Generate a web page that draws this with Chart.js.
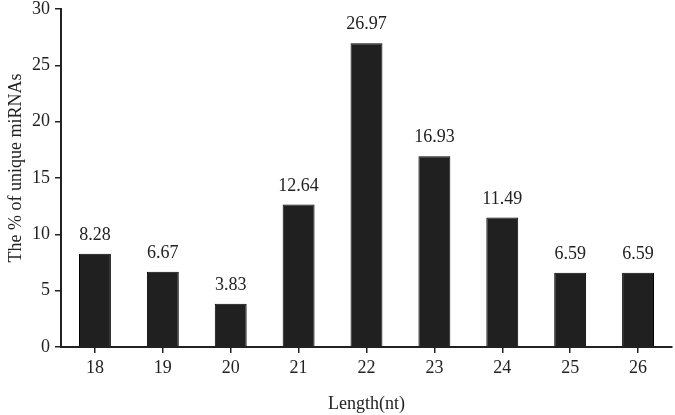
<!DOCTYPE html>
<html lang="en">
<head>
  <meta charset="UTF-8" />
  <title>Length distribution of unique miRNAs</title>
  <script src="https://cdn.jsdelivr.net/npm/chart.js"></script>
  <style>
    body { margin: 0; background: #fff; }
  </style>
</head>
<body>
  <canvas id="lenChart" width="675" height="415"></canvas>
  <script>
    const lengths = ['18', '19', '20', '21', '22', '23', '24', '25', '26'];
    const percents = [8.28, 6.67, 3.83, 12.64, 26.97, 16.93, 11.49, 6.59, 6.59];
    const yTicks = [0, 5, 10, 15, 20, 25, 30];
    const yTitle = 'The % of unique miRNAs';

    const FONT = "'Liberation Serif', 'DejaVu Serif', serif";
    const INK = '#222';

    // value labels above each bar + rotated y title
    const barLabels = {
      id: 'barLabels',
      afterDatasetsDraw(chart) {
        const ctx = chart.ctx;
        const meta = chart.getDatasetMeta(0);
        ctx.save();
        ctx.font = '18px ' + FONT;
        ctx.fillStyle = INK;
        ctx.textAlign = 'center';
        ctx.textBaseline = 'alphabetic';
        meta.data.forEach((bar, i) => {
          ctx.fillText(percents[i].toFixed(2), bar.x, bar.y - 14);
        });
        ctx.translate(21, 168);
        ctx.rotate(-Math.PI / 2);
        ctx.font = '18px ' + FONT;
        ctx.fillText(yTitle, 0, 0);
        ctx.restore();
      }
    };

    new Chart(document.getElementById('lenChart'), {
      type: 'bar',
      data: {
        labels: lengths,
        datasets: [{
          data: percents,
          backgroundColor: '#202020',
          borderColor: '#000',
          borderWidth: 1,
          categoryPercentage: 1,
          barPercentage: 0.47
        }]
      },
      options: {
        responsive: false,
        animation: false,
        devicePixelRatio: 1,
        layout: { padding: { top: 0, right: 3 } },
        plugins: { legend: { display: false }, tooltip: { enabled: false } },
        scales: {
          x: {
            grid: { display: true, offset: false, drawOnChartArea: false, drawTicks: true, tickLength: 6, color: INK, lineWidth: 1.5 },
            border: { color: INK, width: 2 },
            ticks: { color: INK, font: { family: FONT, size: 18 }, padding: 4, autoSkip: false, maxRotation: 0 },
            title: { display: true, text: 'Length(nt)', color: INK, font: { family: FONT, size: 18 }, padding: { top: 14, bottom: 0 } },
            afterFit(s) { s.height = 68; }
          },
          y: {
            min: 0,
            max: 30,
            afterBuildTicks(s) { s.ticks = yTicks.map(v => ({ value: v })); },
            grid: { drawOnChartArea: false, drawTicks: true, tickLength: 6, color: INK, lineWidth: 1.5 },
            border: { color: INK, width: 2 },
            ticks: { color: INK, font: { family: FONT, size: 18 }, padding: 5, autoSkip: false },
            afterFit(s) { s.width = 61; s.paddingTop = 9; s.paddingBottom = 0; }
          }
        }
      },
      plugins: [barLabels]
    });
  </script>
</body>
</html>
